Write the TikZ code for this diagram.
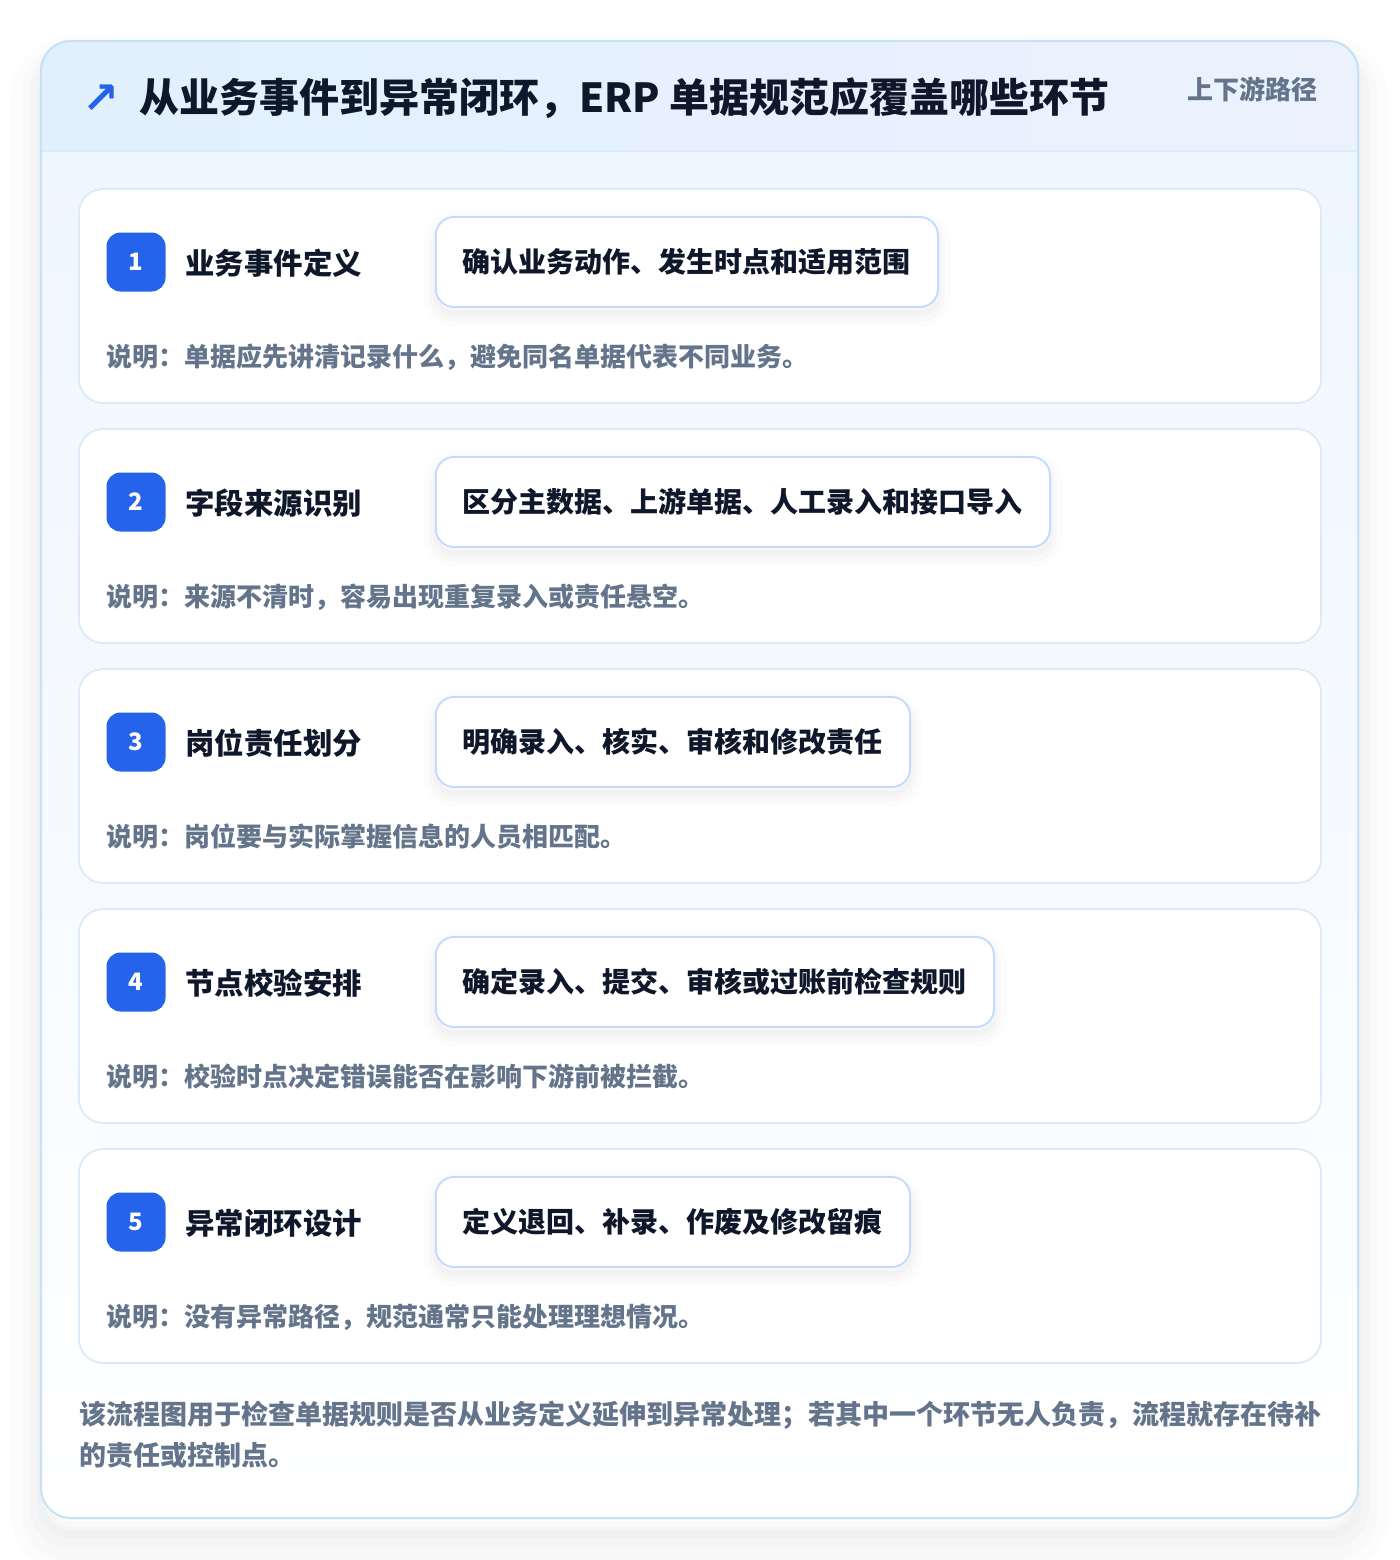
\documentclass[tikz,border=0pt]{standalone}
\usepackage{fontspec}
\setmainfont{Noto Sans CJK SC}
\newfontfamily\symfont{DejaVu Sans}
\definecolor{accent}{HTML}{2563EB}
\definecolor{ink}{HTML}{0F172A}
\definecolor{muted}{HTML}{64748B}
\definecolor{outerline}{HTML}{C5E2F6}
\definecolor{cardline}{HTML}{DCEAFA}
\definecolor{pillline}{HTML}{BFDBFE}
\definecolor{headA}{HTML}{E1F0FD}
\definecolor{headB}{HTML}{EBF2FD}
\definecolor{bodyA}{HTML}{EEF6FE}
\definecolor{shade}{HTML}{1E293B}
\tikzset{
  outercard/.style={draw=outerline, line width=1pt, rounded corners=15pt, minimum width=658.5pt, minimum height=738.5pt, inner sep=0pt},
  softshadow/.style={
    preaction={draw=shade, draw opacity=0.010, line width=30pt, transform canvas={yshift=-13pt}},
    preaction={draw=shade, draw opacity=0.013, line width=20pt, transform canvas={yshift=-12pt}},
    preaction={draw=shade, draw opacity=0.016, line width=11pt, transform canvas={yshift=-10pt}},
    preaction={draw=shade, draw opacity=0.018, line width=4pt, transform canvas={yshift=-8pt}}},
  pillshadow/.style={
    preaction={draw=shade, draw opacity=0.012, line width=12pt, transform canvas={yshift=-4pt}},
    preaction={draw=shade, draw opacity=0.015, line width=7pt, transform canvas={yshift=-4pt}},
    preaction={draw=shade, draw opacity=0.02, line width=3pt, transform canvas={yshift=-3pt}}},
  stepcard/.style={draw=cardline, line width=0.9pt, rounded corners=12pt, fill=white, minimum width=621pt, minimum height=107pt, inner sep=0pt},
  badge/.style={fill=accent, rounded corners=7pt, minimum size=29.5pt, inner sep=0pt, text=white, font=\bfseries\fontsize{12}{14}\selectfont},
  steptitle/.style={anchor=west, text=ink, font=\bfseries\fontsize{14.7}{17}\selectfont, inner sep=0pt},
  pill/.style={anchor=west, pillshadow, draw=pillline, line width=0.9pt, fill=white, rounded corners=9pt, minimum height=45pt, inner xsep=13.5pt, text=ink, font=\bfseries\fontsize{14}{16}\selectfont},
  desc/.style={anchor=west, text=muted, font=\bfseries\fontsize{13}{15}\selectfont, inner sep=0pt},
}
\begin{document}
\begin{tikzpicture}[x=0.5pt, y=-0.5pt]
\useasboundingbox (0,0) rectangle (1400,1560);
\fill[white] (0,0) rectangle (1400,1560);
% outer card
\node[outercard, fill=white, softshadow] (outer) at (699.5,779.5) {};
\begin{scope}
  \clip[rounded corners=15pt] (outer.north west) rectangle (outer.south east);
  \shade[top color=bodyA, bottom color=white] (41,151) rectangle (1358,1518);
  \shade[left color=headA, right color=headB] (41,41) rectangle (1358,151);
  \draw[cardline, line width=1pt] (41,151) -- (1358,151);
\end{scope}
\node[outercard] (outerframe) at (699.5,779.5) {};
% header
\node[text=accent, font=\symfont\bfseries\fontsize{22}{24}\selectfont, inner sep=0pt] (icon) at (101,99) {↗};
\node[anchor=west, text=ink, font=\bfseries\fontsize{20}{24}\selectfont, inner sep=0pt] (title) at (139,98) {从业务事件到异常闭环，ERP 单据规范应覆盖哪些环节};
\node[anchor=east, text=muted, font=\bfseries\fontsize{13}{15}\selectfont, inner sep=0pt] (tag) at (1318,89) {上下游路径};
% steps
\foreach \i/\t/\p/\d in {
  1/业务事件定义/确认业务动作、发生时点和适用范围/说明：单据应先讲清记录什么，避免同名单据代表不同业务。,
  2/字段来源识别/区分主数据、上游单据、人工录入和接口导入/说明：来源不清时，容易出现重复录入或责任悬空。,
  3/岗位责任划分/明确录入、核实、审核和修改责任/说明：岗位要与实际掌握信息的人员相匹配。,
  4/节点校验安排/确定录入、提交、审核或过账前检查规则/说明：校验时点决定错误能否在影响下游前被拦截。,
  5/异常闭环设计/定义退回、补录、作废及修改留痕/说明：没有异常路径，规范通常只能处理理想情况。}{
  \pgfmathsetmacro{\top}{189+240*(\i-1)}
  \node[stepcard] (card\i) at (700,\top+107) {};
  \node[badge] (badge\i) at (136,\top+73) {\i};
  \node[steptitle] (stitle\i) at (185,\top+74) {\t};
  \node[pill] (pill\i) at (435,\top+73) {\p};
  \node[desc] (desc\i) at (106,\top+168) {\d};
}
% footer
\node[anchor=west, text=muted, font=\bfseries\fontsize{13.5}{20.5}\selectfont, inner sep=0pt, align=left] (foot) at (79,1435) {该流程图用于检查单据规则是否从业务定义延伸到异常处理；若其中一个环节无人负责，流程就存在待补\\的责任或控制点。};
\end{tikzpicture}
\end{document}
